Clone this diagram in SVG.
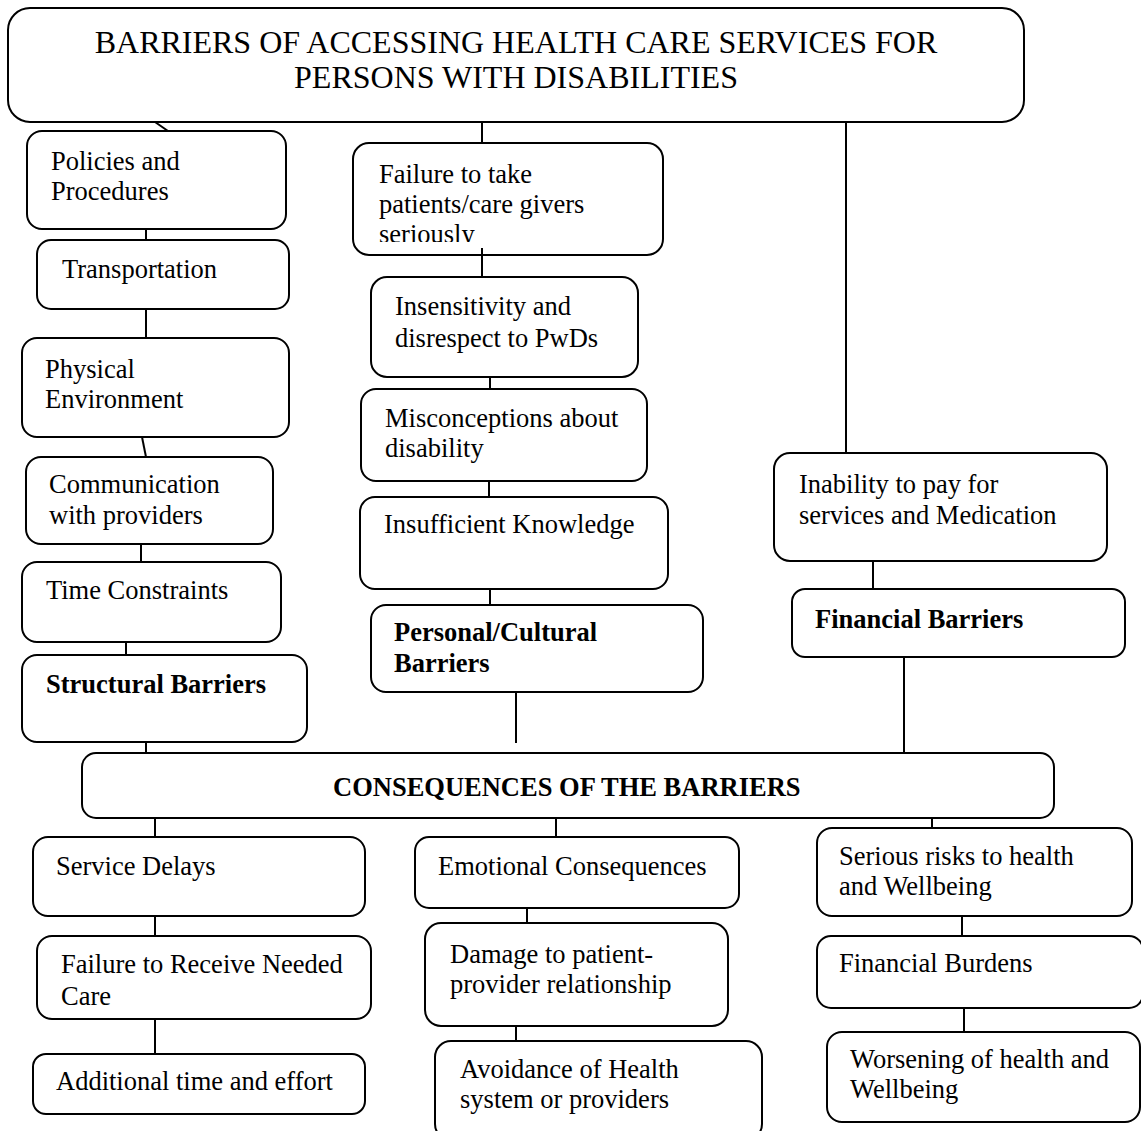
<svg xmlns="http://www.w3.org/2000/svg" width="1141" height="1131" viewBox="0 0 1141 1131">
<style>
.box{fill:#fff;stroke:#000;stroke-width:2}
.t{font-family:"Liberation Serif","Times New Roman",serif;font-size:26.5px;fill:#000}
.b{font-weight:bold}
.ttl{font-family:"Liberation Serif","Times New Roman",serif;font-size:32px;fill:#000;text-anchor:middle}
.c line{stroke:#000;stroke-width:2}
</style>
<defs>
<clipPath id="clipFail"><rect x="353" y="143" width="310" height="99"/></clipPath>
</defs>
<rect width="1141" height="1131" fill="#fff"/>
<g id="title"><rect class="box" x="8" y="8" width="1016" height="114" rx="22"/>
<text class="ttl" x="516" y="53">BARRIERS OF ACCESSING HEALTH CARE SERVICES FOR</text>
<text class="ttl" x="516" y="88">PERSONS WITH DISABILITIES</text></g>
<g id="policies"><rect class="box" x="27" y="131" width="259" height="98" rx="15"/>
<text class="t" x="51" y="170">Policies and</text><text class="t" x="51" y="200">Procedures</text></g>
<g id="transport"><rect class="box" x="37" y="240" width="252" height="69" rx="14"/>
<text class="t" x="62" y="278">Transportation</text></g>
<g id="physical"><rect class="box" x="22" y="338" width="267" height="99" rx="15"/>
<text class="t" x="45" y="378">Physical</text><text class="t" x="45" y="408">Environment</text></g>
<g id="communication"><rect class="box" x="26" y="457" width="247" height="87" rx="15"/>
<text class="t" x="49" y="493">Communication</text><text class="t" x="49" y="524">with providers</text></g>
<g id="time"><rect class="box" x="22" y="562" width="259" height="80" rx="15"/>
<text class="t" x="46" y="599">Time Constraints</text></g>
<g id="structural"><rect class="box" x="22" y="655" width="285" height="87" rx="15"/>
<text class="t b" x="46" y="693">Structural Barriers</text></g>
<g id="failure"><rect class="box" x="353" y="143" width="310" height="112" rx="16"/>
<g clip-path="url(#clipFail)"><text class="t" x="379" y="183">Failure to take</text><text class="t" x="379" y="213">patients/care givers</text><text class="t" x="379" y="243">seriously</text></g></g>
<g id="insensitivity"><rect class="box" x="371" y="277" width="267" height="100" rx="16"/>
<text class="t" x="395" y="315">Insensitivity and</text><text class="t" x="395" y="347">disrespect to PwDs</text></g>
<g id="misconceptions"><rect class="box" x="361" y="389" width="286" height="92" rx="15"/>
<text class="t" x="385" y="427">Misconceptions about</text><text class="t" x="385" y="457">disability</text></g>
<g id="insufficient"><rect class="box" x="360" y="497" width="308" height="92" rx="15"/>
<text class="t" x="384" y="533">Insufficient Knowledge</text></g>
<g id="personal"><rect class="box" x="371" y="605" width="332" height="87" rx="15"/>
<text class="t b" x="394" y="641">Personal/Cultural</text><text class="t b" x="394" y="672">Barriers</text></g>
<g id="inability"><rect class="box" x="774" y="453" width="333" height="108" rx="16"/>
<text class="t" x="799" y="493">Inability to pay for</text><text class="t" x="799" y="524">services and Medication</text></g>
<g id="financial"><rect class="box" x="792" y="589" width="333" height="68" rx="13"/>
<text class="t b" x="815" y="628">Financial Barriers</text></g>
<g id="consequences"><rect class="box" x="82" y="753" width="972" height="65" rx="14"/>
<text class="t b" x="333" y="796">CONSEQUENCES OF THE BARRIERS</text></g>
<g id="service"><rect class="box" x="33" y="837" width="332" height="79" rx="15"/>
<text class="t" x="56" y="875">Service Delays</text></g>
<g id="failreceive"><rect class="box" x="37" y="936" width="334" height="83" rx="15"/>
<text class="t" x="61" y="973">Failure to Receive Needed</text><text class="t" x="61" y="1005">Care</text></g>
<g id="additional"><rect class="box" x="33" y="1054" width="332" height="60" rx="13"/>
<text class="t" x="56" y="1090">Additional time and effort</text></g>
<g id="emotional"><rect class="box" x="415" y="837" width="324" height="71" rx="14"/>
<text class="t" x="438" y="875">Emotional Consequences</text></g>
<g id="damage"><rect class="box" x="425" y="923" width="303" height="103" rx="16"/>
<text class="t" x="450" y="963">Damage to patient-</text><text class="t" x="450" y="993">provider relationship</text></g>
<g id="avoidance"><rect class="box" x="435" y="1041" width="327" height="99" rx="16"/>
<text class="t" x="460" y="1078">Avoidance of Health</text><text class="t" x="460" y="1108">system or providers</text></g>
<g id="serious"><rect class="box" x="817" y="828" width="315" height="88" rx="15"/>
<text class="t" x="839" y="865">Serious risks to health</text><text class="t" x="839" y="895">and Wellbeing</text></g>
<g id="burdens"><rect class="box" x="817" y="936" width="326" height="72" rx="14"/>
<text class="t" x="839" y="972">Financial Burdens</text></g>
<g id="worsening"><rect class="box" x="827" y="1032" width="313" height="90" rx="15"/>
<text class="t" x="850" y="1068">Worsening of health and</text><text class="t" x="850" y="1098">Wellbeing</text></g>
<g id="connectors" class="c">
<line x1="155" y1="122" x2="168" y2="131"/>
<line x1="146" y1="229" x2="146" y2="240"/>
<line x1="146" y1="309" x2="146" y2="338"/>
<line x1="142" y1="437" x2="146" y2="457"/>
<line x1="141" y1="544" x2="141" y2="562"/>
<line x1="126" y1="642" x2="126" y2="655"/>
<line x1="146" y1="742" x2="146" y2="753"/>
<line x1="482" y1="122" x2="482" y2="143"/>
<line x1="482" y1="248" x2="482" y2="277"/>
<line x1="490" y1="377" x2="490" y2="389"/>
<line x1="489" y1="481" x2="489" y2="497"/>
<line x1="490" y1="589" x2="490" y2="605"/>
<line x1="516" y1="692" x2="516" y2="743"/>
<line x1="846" y1="122" x2="846" y2="453"/>
<line x1="873" y1="561" x2="873" y2="589"/>
<line x1="904" y1="657" x2="904" y2="753"/>
<line x1="155" y1="818" x2="155" y2="837"/>
<line x1="155" y1="916" x2="155" y2="936"/>
<line x1="155" y1="1019" x2="155" y2="1054"/>
<line x1="556" y1="818" x2="556" y2="837"/>
<line x1="527" y1="908" x2="527" y2="923"/>
<line x1="516" y1="1026" x2="516" y2="1041"/>
<line x1="932" y1="818" x2="932" y2="828"/>
<line x1="962" y1="916" x2="962" y2="936"/>
<line x1="964" y1="1008" x2="964" y2="1032"/>
</g>
</svg>
